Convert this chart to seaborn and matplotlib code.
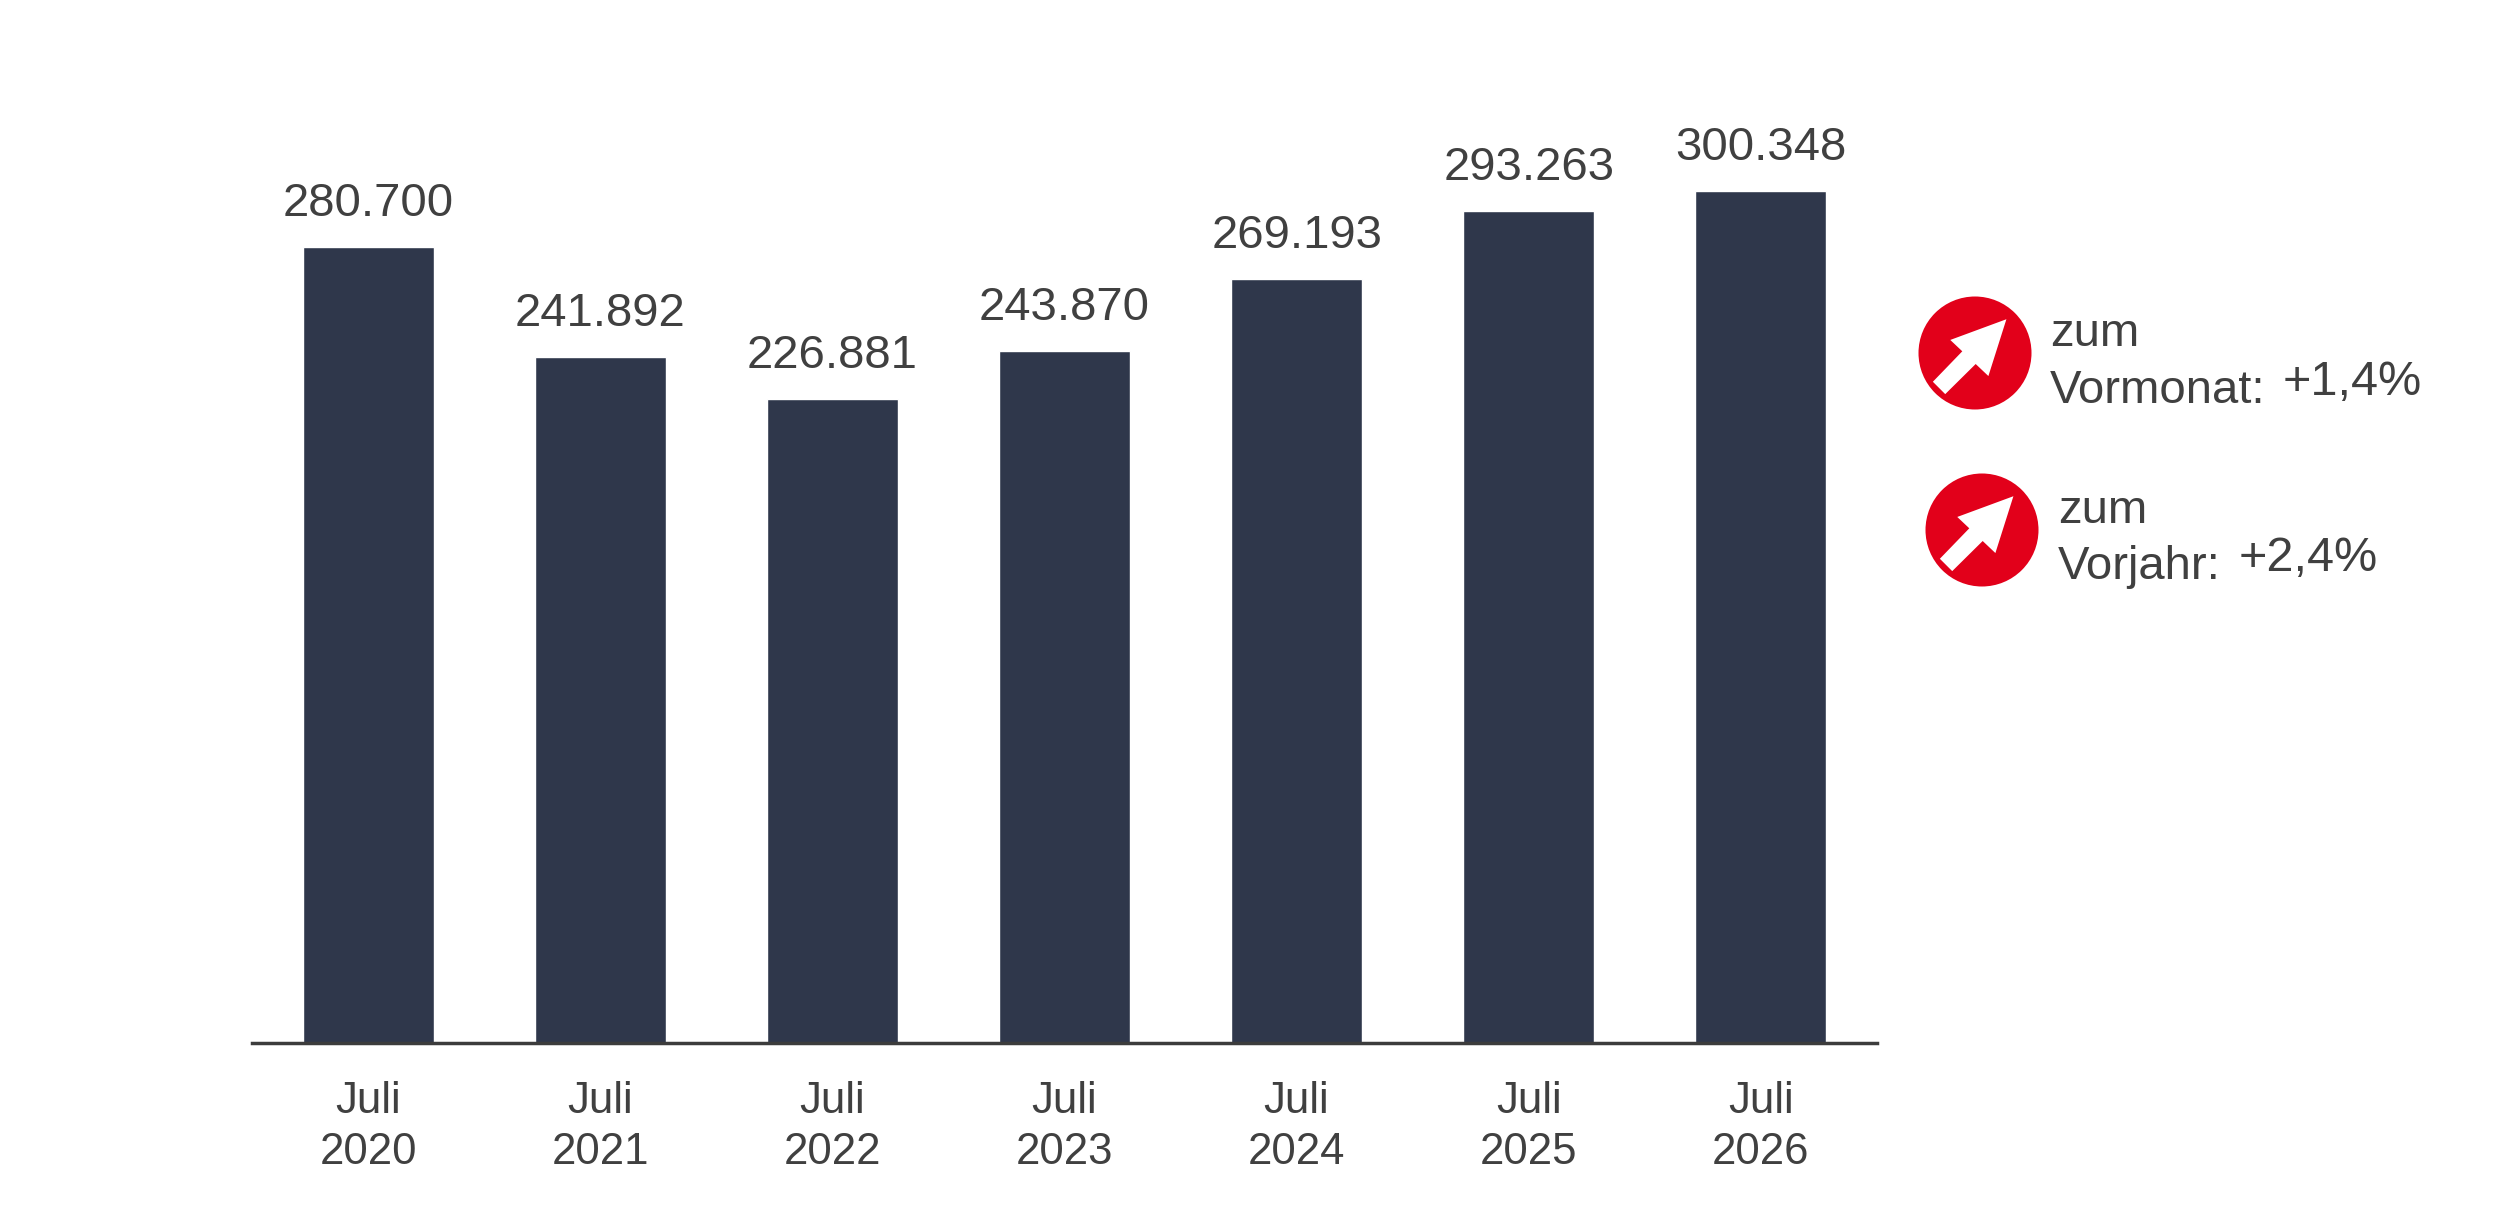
import numpy as np
import matplotlib
matplotlib.use('Agg')
import matplotlib.pyplot as plt
from matplotlib.patches import Circle, Polygon
import seaborn as sns

sns.set_theme(style='white')
plt.rcParams['font.family'] = ['Liberation Sans', 'DejaVu Sans']

# data
months = ['Juli', 'Juli', 'Juli', 'Juli', 'Juli', 'Juli', 'Juli']
years = ['2020', '2021', '2022', '2023', '2024', '2025', '2026']
values = [280700, 241892, 226881, 243870, 269193, 293263, 300348]
change_labels = ['zum\nVormonat:', 'zum\nVorjahr:']
change_values = ['+1,4%', '+2,4%']

bar_col = '#2f374b'
txt_col = '#404040'
red = '#e2001a'

cats = [m + '\n' + y for m, y in zip(months, years)]

fig = plt.figure(figsize=(25, 12.09), dpi=100)
ax = fig.add_axes([0.1008, 0.1373, 0.65, 0.8131])

sns.barplot(x=cats, y=values, color=bar_col, saturation=1, width=0.564, ax=ax)
ax.set_xlim(-0.5, 6.5)
ax.set_ylim(0, 346500)

labels = [f'{v:,}'.replace(',', '.') for v in values]
ax.bar_label(ax.containers[0], labels=labels, padding=15, fontsize=34, color=txt_col)

for s in ['top', 'right', 'left']:
    ax.spines[s].set_visible(False)
ax.spines['bottom'].set_color('#3c3c3c')
ax.spines['bottom'].set_linewidth(2.5)
ax.set_yticks([])
ax.tick_params(axis='x', length=0, pad=27, labelsize=31.5, labelcolor=txt_col)
for t in ax.get_xticklabels():
    t.set_linespacing(1.32)
ax.set_xlabel('')
ax.set_ylabel('')

# icons on an overlay in pixel coordinates
ov = fig.add_axes([0, 0, 1, 1])
ov.set_xlim(0, 2500)
ov.set_ylim(1209, 0)
ov.axis('off')
ov.patch.set_alpha(0)

arrow = np.array([[0.556, 0.598], [-0.438, 0.231], [-0.225, 0.030],
                  [-0.746, -0.509], [-0.527, -0.728], [0.012, -0.195],
                  [0.237, -0.408]])
icons = [(1975, 353), (1982, 530)]
texts = [(2050, 346, 403, 2283, 395), (2058, 523, 579, 2239, 571)]
r = 56.5
for (cx, cy), (tx, y1, y2, vx, vy), lab, val in zip(icons, texts, change_labels, change_values):
    ov.add_patch(Circle((cx, cy), r, color=red, lw=0))
    pts = np.column_stack([cx + arrow[:, 0] * r, cy - arrow[:, 1] * r])
    ov.add_patch(Polygon(pts, closed=True, color='white', lw=0))
    l1, l2 = lab.split('\n')
    ov.text(tx, y1, l1, fontsize=34, color=txt_col, va='baseline')
    ov.text(tx, y2, l2, fontsize=34, color=txt_col, va='baseline')
    ov.text(vx, vy, val, fontsize=35, color=txt_col, va='baseline')

fig.savefig('out.png', dpi=100)
